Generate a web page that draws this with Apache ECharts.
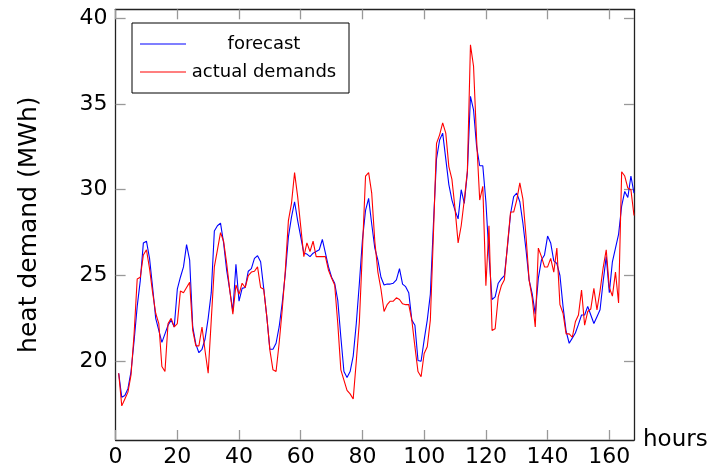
<!DOCTYPE html>
<html>
<head>
<meta charset="utf-8">
<title>heat demand</title>
<script src="https://cdn.jsdelivr.net/npm/echarts@6/dist/echarts.min.js"></script>
<style>
    html, body { margin: 0; padding: 0; background: #fff; }
    #chart { width: 712px; height: 473px; }
</style>
</head>
<body>
<div id="chart"></div>
<script>
// hourly values, hour 1 .. 168
const forecast = [
    19.3, 17.9, 18.0, 18.4, 19.4, 21.2, 23.2, 24.7, 26.9, 27.0,
    26.0, 24.3, 22.5, 21.8, 21.1, 21.6, 22.1, 22.4, 22.0, 24.2,
    24.9, 25.5, 26.8, 25.9, 22.0, 21.0, 20.5, 20.7, 21.3, 22.5,
    24.0, 27.6, 27.9, 28.05, 26.9, 25.3, 24.15, 22.9, 25.65, 23.5,
    24.25, 24.3, 25.25, 25.4, 26.0, 26.15, 25.8, 24.25, 22.6, 20.7,
    20.7, 21.05, 22.0, 23.4, 25.1, 27.25, 28.4, 29.3, 28.2, 27.25,
    26.3, 26.25, 26.1, 26.3, 26.4, 26.5, 27.1, 26.3, 25.5, 24.9,
    24.55, 23.55, 21.4, 19.4, 19.05, 19.4, 20.3, 22.2, 24.55, 27.1,
    28.8, 29.5, 28.0, 26.6, 25.9, 24.9, 24.45, 24.5, 24.5, 24.55,
    24.75, 25.4, 24.5, 24.35, 24.0, 22.4, 22.1, 20.05, 20.0, 21.25,
    22.4, 23.9, 28.0, 31.8, 32.9, 33.3, 31.8, 30.3, 29.4, 28.8,
    28.3, 30.0, 29.2, 31.0, 35.45, 34.65, 32.5, 31.4, 31.4, 29.3,
    26.2, 23.6, 23.75, 24.55, 24.8, 25.0, 26.7, 28.6, 29.6, 29.8,
    29.3, 28.05, 26.5, 24.75, 23.95, 22.75, 24.85, 25.9, 26.2, 27.3,
    26.9, 25.85, 25.7, 25.0, 23.2, 21.75, 21.05, 21.35, 21.65, 22.15,
    22.7, 22.7, 23.2, 22.7, 22.2, 22.6, 23.0, 24.65, 26.1, 24.0,
    25.8, 26.6, 27.4, 29.05, 29.9, 29.55, 30.8, 29.8
]
const actual = [
    19.3, 17.4, 17.8, 18.2, 19.2, 21.6, 24.8, 24.9, 26.2, 26.5,
    25.4, 24.0, 22.8, 22.2, 19.7, 19.4, 22.2, 22.5, 22.0, 22.2,
    24.1, 24.0, 24.3, 24.6, 21.8, 20.9, 20.9, 22.0, 20.6, 19.3,
    22.4, 25.5, 26.5, 27.5, 27.0, 25.7, 24.15, 22.75, 24.45, 23.9,
    24.55, 24.3, 25.0, 25.2, 25.25, 25.5, 24.3, 24.2, 22.6, 20.65,
    19.5, 19.4, 21.05, 23.0, 25.3, 28.2, 29.2, 31.0, 29.6, 27.85,
    26.1, 26.9, 26.4, 27.0, 26.1, 26.1, 26.1, 26.1, 25.3, 24.85,
    24.45, 22.2, 19.5, 18.9, 18.3, 18.1, 17.8, 20.0, 22.3, 26.5,
    30.8, 31.0, 29.8, 27.0, 25.2, 24.2, 22.9, 23.3, 23.5, 23.5,
    23.7, 23.6, 23.35, 23.3, 23.3, 22.4, 20.85, 19.4, 19.1, 20.45,
    20.85, 22.4, 27.4, 32.7, 33.2, 33.9, 33.3, 31.35, 30.6, 28.9,
    26.9, 27.9, 29.4, 31.1, 38.45, 37.2, 32.9, 29.4, 30.2, 24.4,
    27.9, 21.8, 21.9, 23.75, 24.4, 24.75, 26.8, 28.7, 28.7, 29.4,
    30.4, 29.45, 27.3, 24.75, 23.7, 22.0, 26.6, 26.1, 25.5, 25.5,
    26.0, 25.2, 26.6, 23.3, 22.8, 21.6, 21.6, 21.4, 22.3, 22.7,
    24.15, 22.1, 22.9, 23.05, 24.25, 23.0, 24.1, 25.45, 26.5, 24.3,
    23.8, 25.2, 23.4, 31.05, 30.8, 30.1, 30.0, 28.5
]
const xTicks = [0, 20, 40, 60, 80, 100, 120, 140, 160]
const yTicks = [20, 25, 30, 35, 40]
const seriesNames = ['forecast', 'actual demands']

const font = 'DejaVu Sans'

function toPoints(values) {
    return values.map((v, i) => [i + 1, v])
}

function frameAxis(ticks, extra) {
    return Object.assign({
        type: 'value',
        axisLine: { show: true, onZero: false, lineStyle: { color: '#222', width: 1.3 } },
        axisTick: { show: true, inside: true, length: 10, customValues: ticks, lineStyle: { color: '#999', width: 1.3 } },
        axisLabel: { show: false },
        splitLine: { show: false }
    }, extra)
}

let myChart = echarts.init(document.getElementById('chart'), null, { renderer: 'canvas' })

myChart.setOption({
    animation: false,
    backgroundColor: '#fff',
    grid: { left: 115.6, right: 78, top: 9.3, bottom: 33, containLabel: false },
    legend: {
        orient: 'vertical',
        left: 132,
        top: 23,
        data: seriesNames,
        icon: 'path://M0 0H46V1.2H0Z',
        itemWidth: 46,
        itemHeight: 14,
        itemGap: 10,
        padding: [12, 12, 12, 8],
        borderColor: '#000',
        borderWidth: 1,
        backgroundColor: '#fff',
        formatter: name => '{t|' + name + '}',
        textStyle: {
            fontFamily: font,
            color: '#000',
            rich: { t: { width: 146, align: 'center', fontSize: 18, fontFamily: font, color: '#000', lineHeight: 18 } }
        }
    },
    xAxis: [
        frameAxis(xTicks, {
            min: 0, max: 168, position: 'bottom',
            axisLabel: { show: true, customValues: xTicks, fontSize: 22, fontFamily: font, color: '#000', margin: 6 },
            name: 'hours', nameLocation: 'end', nameGap: 9,
            nameTextStyle: { fontSize: 23, fontFamily: font, color: '#000' }
        }),
        frameAxis(xTicks, { min: 0, max: 168, position: 'top' })
    ],
    yAxis: [
        frameAxis(yTicks, {
            min: 15.41, max: 40.52, position: 'left',
            axisLabel: { show: true, customValues: yTicks, fontSize: 22, fontFamily: font, color: '#000', margin: 8 },
            name: 'heat demand (MWh)', nameLocation: 'middle', nameGap: 74, nameRotate: 90,
            nameTextStyle: { fontSize: 25, fontFamily: font, color: '#000' }
        }),
        frameAxis(yTicks, { min: 15.41, max: 40.52, position: 'right' })
    ],
    series: [
        {
            name: seriesNames[0], type: 'line', data: toPoints(forecast),
            symbol: 'none', color: '#0000ff', lineStyle: { color: '#0000ff', width: 1.1 }
        },
        {
            name: seriesNames[1], type: 'line', data: toPoints(actual),
            symbol: 'none', color: '#ff0000', lineStyle: { color: '#ff0000', width: 1.1 }
        }
    ]
})
</script>
</body>
</html>
